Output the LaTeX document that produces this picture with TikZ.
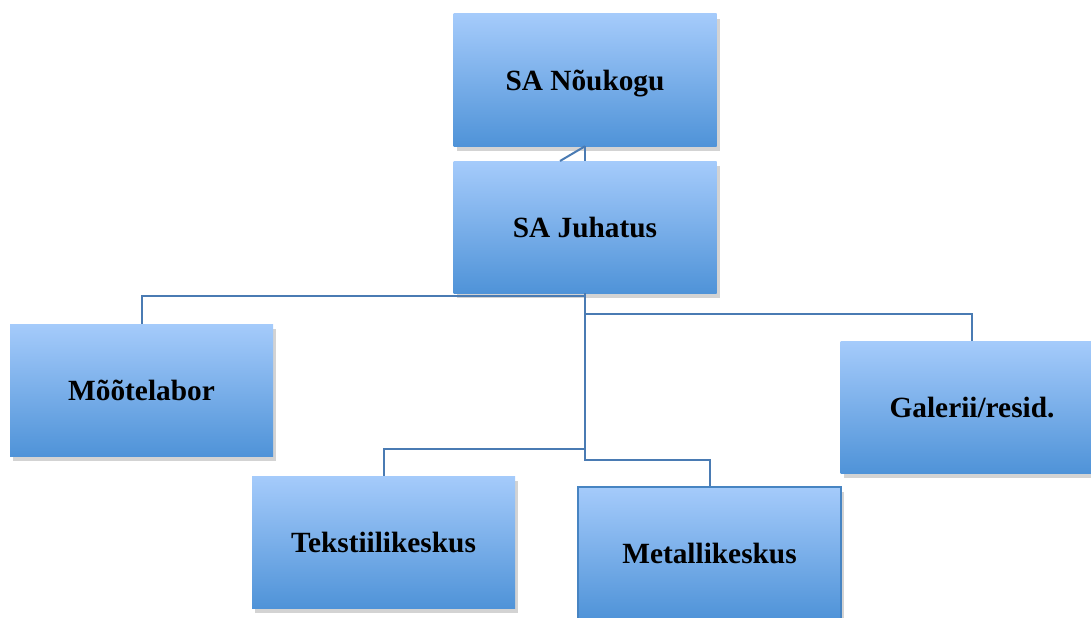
\documentclass[tikz,border=0pt]{standalone}
\usepackage{fontspec}
\setmainfont{Liberation Serif}
\usetikzlibrary{shadows}
\definecolor{boxtop}{HTML}{A5CBFB}
\definecolor{boxbot}{HTML}{4F93D8}
\definecolor{linkblue}{HTML}{4A7BB3}
\tikzset{
  unit/.style={minimum width=197.25pt, minimum height=99pt, inner sep=0pt,
    text height=16pt, text depth=0.5pt,
    top color=boxtop, bottom color=boxbot,
    drop shadow={opacity=.35, shadow xshift=2.5pt, shadow yshift=-3.5pt},
    font=\fontsize{22}{26}\selectfont\bfseries},
  link/.style={draw=linkblue, line width=1.5pt}
}
\begin{document}
\begin{tikzpicture}[x=0.75pt, y=-0.75pt]
  \useasboundingbox (0,0) rectangle (1091,617);
  \clip (0,0) rectangle (1091,617);
  \node [unit] (nou) at (585,80) {SA Nõukogu};
  \node [unit] (juh) at (585,227) {SA Juhatus};
  \node [unit] (moo) at (141.5,390) {Mõõtelabor};
  \node [unit] (gal) at (972,407) {Galerii/resid.};
  \node [unit] (tek) at (383.5,542) {Tekstiilikeskus};
  \node [unit, draw=boxbot!90!black, line width=0.8pt] (met) at (709.5,553) {Metallikeskus};
  \coordinate (dia) at (560,161);
  \draw [link] (nou.south) -- (juh.north);
  \draw [link] (nou.south) -- (dia);
  \draw [link] (juh.south) -- ++(0,3) -| (moo.north);
  \draw [link] (juh.south) -- ++(0,21) -| (gal.north);
  \draw [link] (juh.south) -- ++(0,156) -| (tek.north);
  \draw [link] (juh.south) -- ++(0,167) -| (met.north);
\end{tikzpicture}
\end{document}
